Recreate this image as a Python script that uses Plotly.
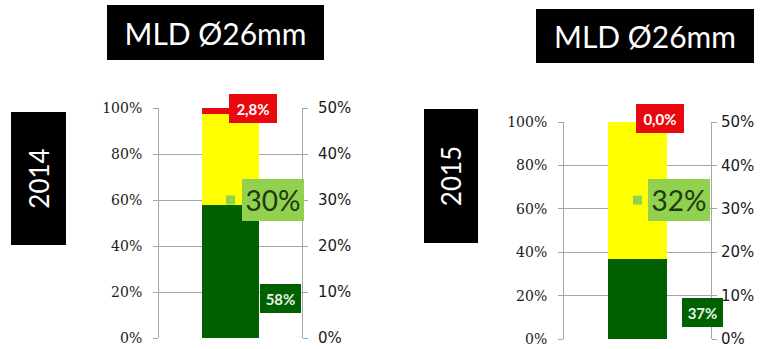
import plotly.graph_objects as go

# ---- data ----
years = ["2014", "2015"]
title_text = "MLD Ø26mm"
green_share = [58.0, 37.0]      # % (left axis)
yellow_share = [39.2, 63.0]     # % (left axis)
red_share = [2.8, 0.0]          # % (left axis)
marker_value = [30, 32]         # % (right axis)
left_ticks = [0, 20, 40, 60, 80, 100]
right_ticks = [0, 10, 20, 30, 40, 50]
left_tick_labels = ["0%", "20%", "40%", "60%", "80%", "100%"]
right_tick_labels = ["0%", "10%", "20%", "30%", "40%", "50%"]

RED = "#E8090F"
YELLOW = "#FFFF00"
DGREEN = "#006100"
LGREEN = "#92D050"
GRID = "#A6A6A6"

W, H = 760, 349

def px_x(v):
    return v / W

def px_y(v):
    return 1 - v / H

panels = [
    dict(xd=(159, 302), yd=(108, 338), title=(107, 5, 217, 55), year=(11, 112, 55, 133),
         red_dx=-2, red_dy=0, mk_dx=11, lab_dx=29, lab_y=0.17, rstand=7),
    dict(xd=(564, 711), yd=(122, 339), title=(536, 9, 218, 54), year=(424, 109, 54, 134),
         red_dx=-1.5, red_dy=3.5, mk_dx=10.5, lab_dx=44.5, lab_y=0.122, rstand=1),
]

fig = go.Figure()
layout = dict(width=W, height=H, margin=dict(l=0, r=0, t=0, b=0, autoexpand=False),
              paper_bgcolor="white", plot_bgcolor="white",
              showlegend=False, barmode="stack", annotations=[])

for i, p in enumerate(panels):
    xa = "x" if i == 0 else "x3"
    ya = "y" if i == 0 else "y3"
    ya2 = "y2" if i == 0 else "y4"
    xkey = "xaxis" if i == 0 else "xaxis3"
    ykey = "yaxis" if i == 0 else "yaxis3"
    y2key = "yaxis2" if i == 0 else "yaxis4"

    for vals, col in [(green_share, DGREEN), (yellow_share, YELLOW), (red_share, RED)]:
        fig.add_trace(go.Bar(x=[0], y=[vals[i]], marker=dict(color=col, line=dict(width=0)),
                             width=0.395, xaxis=xa, yaxis=ya, hoverinfo="skip"))
    fig.add_trace(go.Scatter(x=[0], y=[marker_value[i]], mode="markers",
                             marker=dict(symbol="square", size=9, color=LGREEN),
                             xaxis=xa, yaxis=ya2, hoverinfo="skip"))

    layout[xkey] = dict(domain=[px_x(p["xd"][0]), px_x(p["xd"][1])], range=[-0.5, 0.5],
                        visible=False, anchor=ya, fixedrange=True, automargin=False)
    layout[ykey] = dict(domain=[px_y(p["yd"][1]), px_y(p["yd"][0])], range=[0, 100],
                        anchor=xa, tickmode="array", tickvals=left_ticks,
                        ticktext=left_tick_labels, automargin=False,
                        showgrid=True, gridcolor=GRID, gridwidth=1, zeroline=False,
                        showline=True, linecolor=GRID, linewidth=1,
                        ticks="outside", ticklen=5, tickcolor=GRID,
                        ticklabelstandoff=8,
                        tickfont=dict(family="DejaVu Serif", size=14, color="#1a1a1a"))
    layout[y2key] = dict(overlaying=ya, side="right", range=[0, 50], anchor=xa,
                         tickmode="array", tickvals=right_ticks, ticktext=right_tick_labels,
                         showgrid=False, zeroline=False, automargin=False,
                         showline=True, linecolor=GRID, linewidth=1,
                         ticks="outside", ticklen=5, tickcolor=GRID,
                         ticklabelstandoff=p["rstand"],
                         tickfont=dict(family="DejaVu Sans", size=15, color="#1a1a1a"))

    tx, ty, tw, th = p["title"]
    layout["annotations"].append(dict(
        text=title_text, xref="paper", yref="paper",
        x=px_x(tx + tw / 2), y=px_y(ty + th / 2), xanchor="center", yanchor="middle",
        width=tw, height=th, bgcolor="black", borderpad=0, borderwidth=0, showarrow=False,
        font=dict(family="Lato", size=30, color="white")))
    bx, by, bw, bh = p["year"]
    layout["annotations"].append(dict(
        text=years[i], xref="paper", yref="paper",
        x=px_x(bx + bw / 2), y=px_y(by + bh / 2), xanchor="center", yanchor="middle",
        width=bh, height=bw, textangle=-90, bgcolor="black", borderpad=0, borderwidth=0,
        showarrow=False, font=dict(family="Lato", size=26, color="white")))
    top = green_share[i] + yellow_share[i] + red_share[i]
    layout["annotations"].append(dict(
        text="<b>" + f"{red_share[i]:.1f}".replace(".", ",") + "%</b>",
        xref=xa, yref=ya, x=0, y=top, xanchor="left", yanchor="middle",
        xshift=p["red_dx"], yshift=p["red_dy"], width=44, height=25,
        bgcolor=RED, borderpad=2, borderwidth=0, showarrow=False,
        font=dict(family="Lato", size=15, color="white")))
    layout["annotations"].append(dict(
        text=f"{marker_value[i]}%", xref=xa, yref=ya2, x=0, y=marker_value[i],
        xanchor="left", yanchor="middle", xshift=p["mk_dx"], width=58, height=38,
        bgcolor=LGREEN, borderpad=2, borderwidth=0, showarrow=False,
        font=dict(family="Lato", size=28, color="#1E3A10")))
    layout["annotations"].append(dict(
        text="<b>" + f"{green_share[i]:.0f}%" + "</b>", xref=xa, yref=ya + " domain",
        x=0, y=p["lab_y"], xanchor="left", yanchor="middle", xshift=p["lab_dx"],
        width=37, height=25, bgcolor=DGREEN, borderpad=2, borderwidth=0, showarrow=False,
        font=dict(family="Lato", size=15, color="#E8F5E0")))

fig.update_layout(**layout)
fig.write_html("out.html")
